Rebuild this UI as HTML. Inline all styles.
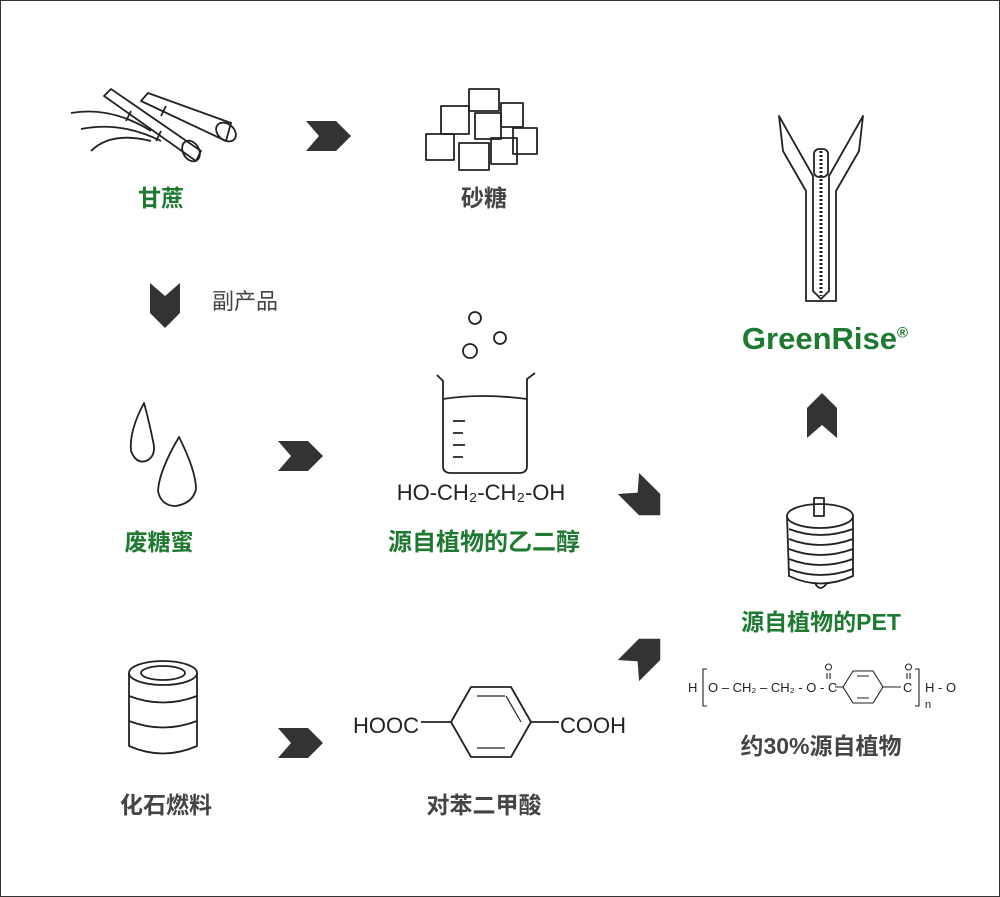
<!DOCTYPE html>
<html><head><meta charset="utf-8"><style>
html,body{margin:0;padding:0;background:#fff}
#c{position:relative;width:998px;height:895px;border:1px solid #333;overflow:hidden}
.t{position:absolute;font-family:"Liberation Sans","Noto Sans CJK SC",sans-serif;white-space:nowrap;transform:translateX(-50%);font-weight:bold;font-size:23px;line-height:1}
.g{color:#1d7a30}.k{color:#444}
svg{position:absolute;left:0;top:0}
</style></head><body><div id="c">
<svg width="1000" height="897" viewBox="0 0 1000 897">
<defs><polygon id="ch" points="0,0 30,0 45,15 30,30 0,30 13,15" fill="#333"/></defs>
<use href="#ch" x="305" y="120"/>
<use href="#ch" x="277" y="440"/>
<use href="#ch" x="277" y="727"/>
<g transform="translate(164,304) rotate(90) translate(-22,-15)"><use href="#ch"/></g>
<g transform="translate(821,415) rotate(-90) translate(-22,-15)"><use href="#ch"/></g>
<g transform="translate(643,498) rotate(45) translate(-22,-15)"><use href="#ch"/></g>
<g transform="translate(643,654) rotate(-45) translate(-22,-15)"><use href="#ch"/></g>
<g fill="none" stroke="#222" stroke-width="1.8" stroke-linejoin="round">
<!-- sugarcane -->
<path d="M70,112 Q110,105 150,130 M80,128 Q120,120 160,140 M90,150 Q110,130 150,140"/>
<path d="M103,95 L110,88 L200,150 L195,160 Z"/>
<path d="M140,100 L147,92 L230,122 L225,140 Z"/>
<ellipse cx="190" cy="150" rx="8" ry="11" transform="rotate(-30 190 150)"/>
<ellipse cx="225" cy="131" rx="8" ry="11" transform="rotate(-50 225 131)"/>
<path d="M130,110 L125,120 M160,130 L155,140 M165,105 L160,115"/>
<!-- sugar cubes -->
<g>
<rect x="468" y="88" width="30" height="22"/><rect x="440" y="105" width="28" height="28"/>
<rect x="474" y="112" width="26" height="26"/><rect x="500" y="102" width="22" height="24"/>
<rect x="425" y="133" width="28" height="26"/><rect x="458" y="142" width="30" height="27"/>
<rect x="490" y="137" width="26" height="26"/><rect x="512" y="127" width="24" height="26"/>
</g>
<!-- drops -->
<path d="M143,402 Q128,430 130,450 Q135,463 145,460 Q156,455 152,440 Q148,420 143,402Z"/>
<path d="M178,436 Q158,470 157,490 Q160,505 175,505 Q192,502 195,488 Q195,470 178,436Z"/>
<!-- beaker -->
<path d="M436,374 L442,380 L442,465 Q442,472 450,472 L518,472 Q526,472 526,465 L526,378 L534,372"/>
<path d="M442,398 Q480,392 526,398"/>
<path d="M452,420 L464,420 M452,432 L462,432 M452,444 L464,444 M452,456 L462,456"/>
<circle cx="474" cy="317" r="6"/><circle cx="499" cy="337" r="6"/><circle cx="469" cy="350" r="7"/>
<!-- barrel -->
<ellipse cx="162" cy="672" rx="34" ry="12"/><ellipse cx="162" cy="672" rx="22" ry="7"/>
<path d="M128,672 L128,745 Q162,760 196,745 L196,672"/>
<path d="M128,695 Q162,708 196,695 M128,720 Q162,733 196,720"/>
<!-- zipper -->
<path d="M778,115 L812,175 L812,290 L820,298 L828,290 L828,175 L862,115 L858,150 L835,190 L835,300 L805,300 L805,190 L782,150 Z"/>
<path d="M820,150 L820,295" stroke-dasharray="2 2" stroke-width="3"/>
<rect x="813" y="148" width="14" height="28" rx="5"/>
<!-- spool -->
<ellipse cx="819" cy="515" rx="33" ry="12"/>
<path d="M786,515 L788,575 Q819,590 852,575 L852,515"/>
<path d="M788,528 Q819,540 852,528 M788,538 Q819,550 852,538 M788,548 Q819,560 852,548 M788,558 Q819,570 852,558 M788,568 Q819,580 852,568"/>
<rect x="813" y="497" width="10" height="18"/>
<path d="M814,582 Q819,592 826,582"/>
<!-- benzene -->
<polygon points="470,686 510,686 530,721 510,756 470,756 450,721"/>
<path d="M476,695 L504,695 M476,747 L504,747 M520,721 L505,695" stroke-width="1.2"/>
<path d="M420,721 L450,721 M530,721 L558,721"/>
</g>
<!-- PET formula -->
<g fill="none" stroke="#222" stroke-width="1.1">
<polygon points="852,670 872,670 882,686 872,702 852,702 842,686"/>
<path d="M856,675 L868,675 M856,697 L868,697"/>
<path d="M834,686 L842,686 M882,686 L900,686"/>
<path d="M706,668 L702,668 L702,705 L706,705 M914,668 L918,668 L918,705 L914,705"/>
<path d="M826,672 L826,678 M829,672 L829,678 M906,672 L906,678 M909,672 L909,678"/>
</g>
<g font-family="Liberation Sans,sans-serif" font-size="13" fill="#222">
<text x="687" y="691">H</text>
<text x="707" y="691">O – CH₂ – CH₂ - O - C</text>
<circle cx="827.5" cy="666" r="3" fill="none" stroke="#222"/>
<circle cx="907.5" cy="666" r="3" fill="none" stroke="#222"/>
<text x="902" y="691">C</text>
<text x="924" y="691">H - O</text>
<text x="924" y="707" font-size="11">n</text>
</g>
</svg>
<div class="t g" style="left:160px;top:186px">甘蔗</div>
<div class="t k" style="left:483px;top:186px">砂糖</div>
<div class="t k" style="left:244px;top:290px;font-weight:normal;font-size:22px">副产品</div>
<div class="t g" style="left:158px;top:530px">废糖蜜</div>
<div class="t k" style="left:480px;top:481px;font-weight:normal;font-size:22px;color:#222">HO-CH₂-CH₂-OH</div>
<div class="t g" style="left:483px;top:530px;font-size:24px">源自植物的乙二醇</div>
<div class="t g" style="left:824px;top:322px;font-size:31px">GreenRise<sup style="font-size:15px">®</sup></div>
<div class="t g" style="left:820px;top:610px">源自植物的PET</div>
<div class="t k" style="left:820px;top:734px">约30%源自植物</div>
<div class="t k" style="left:385px;top:714px;font-weight:normal;font-size:22px;color:#222">HOOC</div>
<div class="t k" style="left:592px;top:714px;font-weight:normal;font-size:22px;color:#222">COOH</div>
<div class="t k" style="left:165px;top:793px">化石燃料</div>
<div class="t k" style="left:483px;top:793px">对苯二甲酸</div>
</div></body></html>
